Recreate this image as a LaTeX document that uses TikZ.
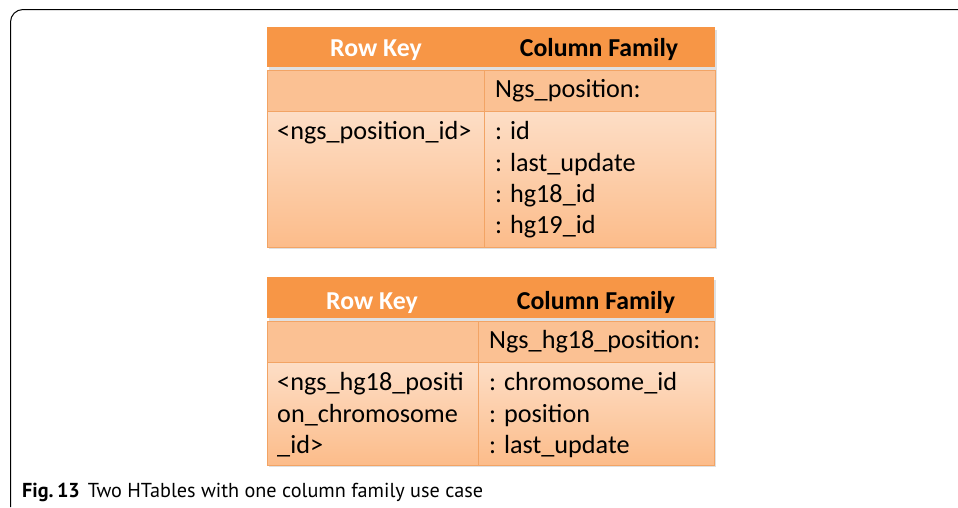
\documentclass[tikz,border=0pt]{standalone}
\usepackage{fontspec}
\setmainfont{Carlito}
\newfontfamily\capfont{PT Sans}
\definecolor{hdrorange}{HTML}{F79646}
\definecolor{rowmid}{HTML}{FBC193}
\definecolor{rowtop}{HTML}{FDDEC6}
\definecolor{rowbot}{HTML}{FCBC8A}
\definecolor{gridline}{HTML}{F2A465}
\tikzset{
  cell/.style={anchor=north west, inner sep=0pt, outer sep=0pt, draw=gridline, line width=0.8pt},
  hdrcell/.style={cell, fill=hdrorange, draw=none},
  namecell/.style={cell, fill=rowmid},
  bodycell/.style={cell, top color=rowtop, bottom color=rowbot},
  hdrtext/.style={inner sep=0pt, anchor=base, font=\fontsize{25.8}{30}\selectfont\bfseries},
  celltext/.style={inner sep=0pt, anchor=base west, font=\fontsize{26.2}{31}\selectfont},
  shade/.style={fill=black, opacity=0.12},
}
\begin{document}
\begin{tikzpicture}[x=1pt, y=-1pt]
\useasboundingbox (0,0) rectangle (958,507);
% outer frame, open at right and bottom
\draw[line width=1pt] (10.5,507) -- (10.5,22) arc[start angle=180, end angle=270, radius=12.5] -- (958,9.5);

% ---------- first table ----------
\fill[shade] (269,30) rectangle (717,249);
\node[hdrcell, minimum width=448pt, minimum height=40pt] (ah) at (267,27) {};
\node[namecell, minimum width=217pt, minimum height=41pt] (an1) at (267,70) {};
\node[namecell, minimum width=231pt, minimum height=41pt] (an2) at (484,70) {};
\node[bodycell, minimum width=217pt, minimum height=136pt] (ab1) at (267,111) {};
\node[bodycell, minimum width=231pt, minimum height=136pt] (ab2) at (484,111) {};
\node[hdrtext, text=white] (ark) at (376,56) {Row Key};
\node[hdrtext, text=black] (acf) at (599,56) {Column Family};
\node[celltext] (afam) at (495,97) {Ngs\_position:};
\node[celltext] (akey) at (277,139) {<ngs\_position\_id>};
\node[celltext] (ac1) at (495,139) {: id};
\node[celltext] (ac2) at (495,171) {: last\_update};
\node[celltext] (ac3) at (495,202) {: hg18\_id};
\node[celltext] (ac4) at (495,233) {: hg19\_id};

% ---------- second table ----------
\fill[shade] (269,280) rectangle (716,467);
\node[hdrcell, minimum width=447pt, minimum height=41pt] (bh) at (267,277) {};
\node[namecell, minimum width=211pt, minimum height=41pt] (bn1) at (267,321) {};
\node[namecell, minimum width=236pt, minimum height=41pt] (bn2) at (478,321) {};
\node[bodycell, minimum width=211pt, minimum height=103pt] (bb1) at (267,362) {};
\node[bodycell, minimum width=236pt, minimum height=103pt] (bb2) at (478,362) {};
\node[hdrtext, text=white] (brk) at (372,309) {Row Key};
\node[hdrtext, text=black] (bcf) at (596,309) {Column Family};
\node[celltext] (bfam) at (489,348) {Ngs\_hg18\_position:};
\node[celltext] (bk1) at (277,390) {<ngs\_hg18\_positi};
\node[celltext] (bk2) at (277,422) {on\_chromosome};
\node[celltext] (bk3) at (277,453) {\_id>};
\node[celltext] (bc1) at (489,390) {: chromosome\_id};
\node[celltext] (bc2) at (489,422) {: position};
\node[celltext] (bc3) at (489,453) {: last\_update};

% ---------- caption ----------
\node[inner sep=0pt, anchor=base west, font=\capfont\fontsize{20.2}{24}\selectfont] (cap) at (22,497)
  {\textbf{Fig.\,13}\hspace{8pt}Two HTables with one column family use case};
\end{tikzpicture}
\end{document}
